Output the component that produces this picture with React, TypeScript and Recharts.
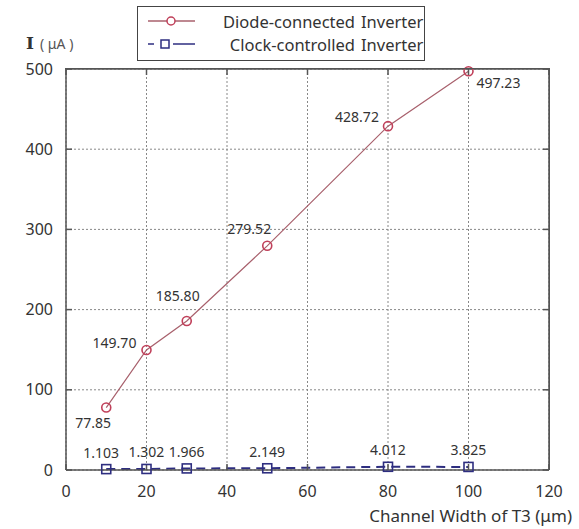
import React from 'react';
import { LineChart, Line, XAxis, YAxis, CartesianGrid, LabelList } from 'recharts';

const channelWidths = [10, 20, 30, 50, 80, 100];
const diodeCurrent = [77.85, 149.7, 185.8, 279.52, 428.72, 497.23];
const clockCurrent = [1.103, 1.302, 1.966, 2.149, 4.012, 3.825];
const xTicks = [0, 20, 40, 60, 80, 100, 120];
const yTicks = [0, 100, 200, 300, 400, 500];

const data = channelWidths.map((w, i) => ({ w, diode: diodeCurrent[i], clock: clockCurrent[i] }));

// label offsets (dx, dy) relative to each point
const diodeLabelOffsets = [[-13, 15], [-32, -7], [-9, -25], [-18, -17], [-31, -10], [30, 11]];
const clockLabelOffsets = [[-5, -17], [0, -17], [0, -17], [0, -17], [0, -17], [0, -17]];

const FONT = '"Noto Sans", sans-serif';
const RED_LINE = '#a8606c';
const RED_DOT = '#c0405a';
const BLUE = '#2e2e80';
const AXIS = '#555';

const makeLabel = (offsets: number[][], digits: number) => (props: any) => {
  const { x, y, value, index } = props;
  const [dx, dy] = offsets[index] || [0, 0];
  return (
    <text x={x + dx} y={y + dy} textAnchor="middle" dominantBaseline="central"
      fontFamily={FONT} fontSize={14} fill="#333">
      {Number(value).toFixed(digits)}
    </text>
  );
};

const SquareDot = (props: any) => {
  const { cx, cy, index } = props;
  return <rect key={`sq-${index}`} x={cx - 4.5} y={cy - 4.5} width={9} height={9}
    fill="none" stroke={BLUE} strokeWidth={1.6} />;
};

export default function App() {
  return (
    <div style={{ position: 'absolute', left: 0, top: 0, width: 579, height: 529, background: '#fff' }}>
      <LineChart width={579} height={529} data={data}
        margin={{ top: 68, right: 29, bottom: 35, left: 0 }}>
        <CartesianGrid stroke="#888" strokeDasharray="2 2" strokeWidth={1} />
        <XAxis dataKey="w" type="number" domain={[0, 120]} ticks={xTicks}
          axisLine={{ stroke: AXIS, strokeWidth: 1.5 }} tickLine={{ stroke: AXIS, strokeWidth: 1.5 }}
          tickSize={-6} tickMargin={22} height={24}
          tick={{ fontFamily: FONT, fontSize: 16, fill: '#333' }}
          label={{
            content: (p: any) => {
              const vb = p.viewBox;
              return (
                <text x={vb.x + vb.width + 23} y={vb.y + 52} textAnchor="end"
                  fontFamily={FONT} fontSize={17} fill="#333">Channel Width of T3 (μm)</text>
              );
            },
          }} />
        <XAxis xAxisId="top" orientation="top" dataKey="w" type="number" domain={[0, 120]} ticks={xTicks}
          axisLine={{ stroke: AXIS, strokeWidth: 1.5 }} tickLine={{ stroke: AXIS, strokeWidth: 1.5 }}
          tickSize={-6} height={1} tickFormatter={() => ''} />
        <YAxis type="number" domain={[0, 500]} ticks={yTicks} width={66}
          axisLine={{ stroke: AXIS, strokeWidth: 1.5 }} tickLine={{ stroke: AXIS, strokeWidth: 1.5 }}
          tickSize={-6} tickMargin={19}
          tick={{ fontFamily: FONT, fontSize: 16, fill: '#333' }}
          label={{
            content: (p: any) => {
              const vb = p.viewBox;
              return (
                <text x={vb.x + 26} y={vb.y - 20} fill="#333">
                  <tspan fontFamily='"DejaVu Serif", "Liberation Serif", serif' fontWeight="bold" fontSize={17}>I</tspan>
                  <tspan dx={6} fontFamily={FONT} fontSize={14} fill="#555">( μA )</tspan>
                </text>
              );
            },
          }} />
        <YAxis yAxisId="right" orientation="right" type="number" domain={[0, 500]} ticks={yTicks} width={1}
          axisLine={{ stroke: AXIS, strokeWidth: 1.5 }} tickLine={{ stroke: AXIS, strokeWidth: 1.5 }}
          tickSize={-6} tickFormatter={() => ''} />
        <Line dataKey="diode" stroke={RED_LINE} strokeWidth={1.2} isAnimationActive={false}
          dot={{ r: 4.5, stroke: RED_DOT, strokeWidth: 1.6, fill: 'none' }}>
          <LabelList dataKey="diode" content={makeLabel(diodeLabelOffsets, 2)} />
        </Line>
        <Line dataKey="clock" xAxisId="top" yAxisId="right" stroke={BLUE} strokeWidth={2}
          strokeDasharray="9 6" isAnimationActive={false} dot={SquareDot}>
          <LabelList dataKey="clock" content={makeLabel(clockLabelOffsets, 3)} />
        </Line>
      </LineChart>
      {/* plot frame: top and right edges */}
      <div style={{
        position: 'absolute', left: 65, top: 68.25, width: 484.75, height: 402, boxSizing: 'border-box',
        borderTop: `1.5px solid ${AXIS}`, borderRight: `1.5px solid ${AXIS}`, pointerEvents: 'none',
      }} />
      <div style={{
        position: 'absolute', left: 137, top: 6, width: 288, height: 55, boxSizing: 'border-box',
        border: '1.8px solid #444', background: '#fff', fontFamily: FONT, fontSize: 16.5, color: '#333',
        whiteSpace: 'nowrap',
      }}>
        <div style={{ position: 'absolute', left: 8, top: 3, height: 22, display: 'flex', alignItems: 'center' }}>
          <svg width={50} height={14}>
            <line x1={2} y1={7} x2={49} y2={7} stroke={RED_LINE} strokeWidth={1.5} />
            <circle cx={25} cy={7} r={4} fill="#fff" stroke={RED_DOT} strokeWidth={1.5} />
          </svg>
          <span style={{ display: 'inline-block', width: 159, textAlign: 'right' }}>Diode-connected</span>
          <span style={{ marginLeft: 6 }}>Inverter</span>
        </div>
        <div style={{ position: 'absolute', left: 8, top: 26, height: 22, display: 'flex', alignItems: 'center' }}>
          <svg width={50} height={14}>
            <line x1={2} y1={7} x2={8} y2={7} stroke={BLUE} strokeWidth={1.5} />
            <rect x={15} y={3} width={8} height={8} fill="#fff" stroke={BLUE} strokeWidth={1.5} />
            <line x1={27} y1={7} x2={49} y2={7} stroke={BLUE} strokeWidth={1.5} />
          </svg>
          <span style={{ display: 'inline-block', width: 159, textAlign: 'right' }}>Clock-controlled</span>
          <span style={{ marginLeft: 6 }}>Inverter</span>
        </div>
      </div>
    </div>
  );
}
